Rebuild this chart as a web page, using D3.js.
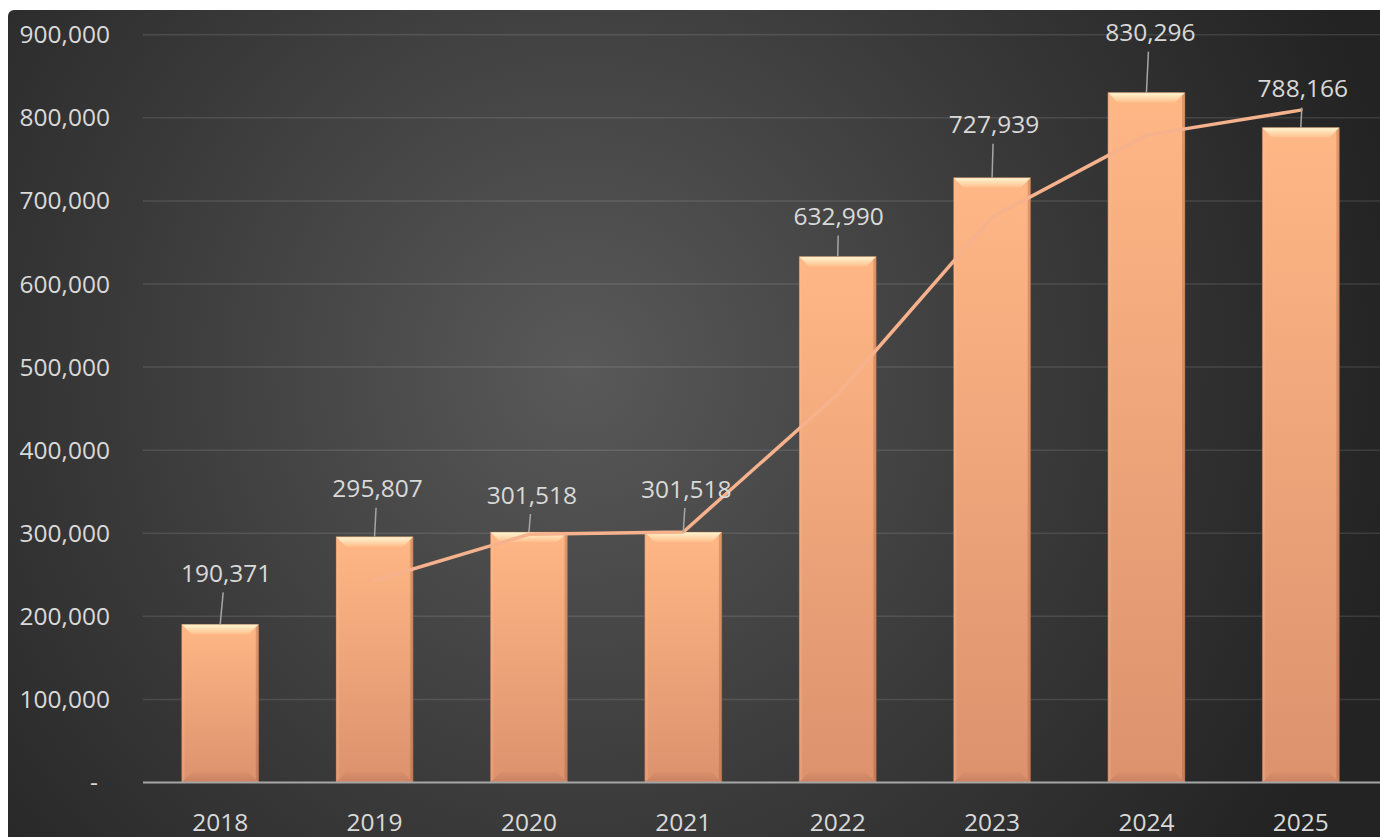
<!DOCTYPE html>
<html>
<head>
<meta charset="utf-8">
<script src="https://cdn.jsdelivr.net/npm/d3@7"></script>
<style>
  html, body { margin: 0; padding: 0; background: #ffffff; }
  svg { display: block; }
  text { font-family: "Open Sans", "Noto Sans", sans-serif; }
</style>
</head>
<body>
<svg id="chart" width="1380" height="837"></svg>
<script>
// Yearly totals
const years = ["2018", "2019", "2020", "2021", "2022", "2023", "2024", "2025"];
const values = [190371, 295807, 301518, 301518, 632990, 727939, 830296, 788166];

// Two-period moving average trend line
const trendYears = ["2019", "2020", "2021", "2022", "2023", "2024", "2025"];
const trendValues = [243089, 298663, 301518, 467254, 680465, 779117, 809231];

// Axis ticks
const yTicks = [0, 100000, 200000, 300000, 400000, 500000, 600000, 700000, 800000, 900000];

// Hand-placed data label nudges (pixels above bar top, pixels right of bar centre)
const labelLift = [51, 48, 37, 43, 40, 53, 60, 39];
const labelShift = [6, 3, 3, 3, 1, 2, 4, 2];

const W = 1380, H = 837;
const svg = d3.select("#chart");
const defs = svg.append("defs");

// Background: dark radial glow
const bg = defs.append("radialGradient").attr("id", "bgGrad")
  .attr("gradientUnits", "userSpaceOnUse")
  .attr("cx", 580).attr("cy", 370).attr("r", 830);
bg.append("stop").attr("offset", "0%").attr("stop-color", "#595959");
bg.append("stop").attr("offset", "55%").attr("stop-color", "#3a3a3a");
bg.append("stop").attr("offset", "100%").attr("stop-color", "#232323");

// Bar body gradient
const barGrad = defs.append("linearGradient").attr("id", "barGrad")
  .attr("x1", 0).attr("y1", 0).attr("x2", 0).attr("y2", 1);
barGrad.append("stop").attr("offset", "0%").attr("stop-color", "#ffb786");
barGrad.append("stop").attr("offset", "100%").attr("stop-color", "#dc926d");

// Top bevel highlight
const topGrad = defs.append("linearGradient").attr("id", "topGrad")
  .attr("x1", 0).attr("y1", 0).attr("x2", 0).attr("y2", 1);
topGrad.append("stop").attr("offset", "0%").attr("stop-color", "#fff7d2");
topGrad.append("stop").attr("offset", "100%").attr("stop-color", "#ffbf8c");

// Bottom bevel shade
const botGrad = defs.append("linearGradient").attr("id", "botGrad")
  .attr("x1", 0).attr("y1", 0).attr("x2", 0).attr("y2", 1);
botGrad.append("stop").attr("offset", "0%").attr("stop-color", "#d98e6b");
botGrad.append("stop").attr("offset", "100%").attr("stop-color", "#c98262");

svg.append("rect")
  .attr("x", 8).attr("y", 10).attr("width", W).attr("height", H)
  .attr("rx", 6).attr("fill", "url(#bgGrad)");

const x = d3.scaleBand().domain(years).range([143, 1378]).paddingInner(0.5).paddingOuter(0.25);
const y = d3.scaleLinear().domain([0, 900000]).range([782.5, 34.7]);

// Gridlines
svg.append("g").selectAll("line")
  .data(yTicks.filter(d => d > 0))
  .join("line")
  .attr("x1", 143).attr("x2", W)
  .attr("y1", d => y(d)).attr("y2", d => y(d))
  .attr("stroke", "rgba(255,255,255,0.11)").attr("stroke-width", 1.5);

// Y axis labels
const fmt = d3.format(",");
svg.append("g").selectAll("text")
  .data(yTicks)
  .join("text")
  .attr("x", d => d === 0 ? 94 : 110)
  .attr("y", d => y(d))
  .attr("dy", "0.35em")
  .attr("text-anchor", d => d === 0 ? "middle" : "end")
  .attr("fill", "#d9d9d9")
  .attr("font-size", 24.5)
  .text(d => d === 0 ? "-" : fmt(d));

// Bars with bevel
const bars = svg.append("g").selectAll("g")
  .data(years.map((yr, i) => ({ yr, v: values[i] })))
  .join("g");

const bev = 10;
bars.append("rect")
  .attr("x", d => x(d.yr)).attr("y", d => y(d.v))
  .attr("width", x.bandwidth()).attr("height", d => y(0) - y(d.v))
  .attr("fill", "url(#barGrad)");

// top bevel
bars.append("path")
  .attr("fill", "url(#topGrad)")
  .attr("d", d => {
    const x0 = x(d.yr), x1 = x0 + x.bandwidth(), t = y(d.v);
    return `M${x0},${t}L${x1},${t}L${x1 - bev},${t + bev}L${x0 + bev},${t + bev}Z`;
  });
// left bevel
bars.append("path")
  .attr("fill", "rgba(255,190,150,0.25)")
  .attr("d", d => {
    const x0 = x(d.yr), t = y(d.v), b = y(0);
    return `M${x0},${t}L${x0 + 3},${t + 3}L${x0 + 3},${b - 3}L${x0},${b}Z`;
  });
// right bevel
bars.append("path")
  .attr("fill", "rgba(150,80,50,0.3)")
  .attr("d", d => {
    const x1 = x(d.yr) + x.bandwidth(), t = y(d.v), b = y(0);
    return `M${x1},${t}L${x1 - 3},${t + 3}L${x1 - 3},${b - 3}L${x1},${b}Z`;
  });
// bottom bevel
bars.append("path")
  .attr("fill", "url(#botGrad)")
  .attr("d", d => {
    const x0 = x(d.yr), x1 = x0 + x.bandwidth(), b = y(0);
    return `M${x0},${b}L${x1},${b}L${x1 - bev},${b - bev}L${x0 + bev},${b - bev}Z`;
  });
bars.append("rect")
  .attr("x", d => x(d.yr)).attr("y", d => y(d.v))
  .attr("width", x.bandwidth()).attr("height", d => y(0) - y(d.v))
  .attr("fill", "none").attr("stroke", "rgba(140,80,50,0.4)").attr("stroke-width", 1);

// X axis baseline
svg.append("line")
  .attr("x1", 143).attr("x2", W)
  .attr("y1", y(0)).attr("y2", y(0))
  .attr("stroke", "#a6a6a6").attr("stroke-width", 2);

// X axis labels
svg.append("g").selectAll("text")
  .data(years)
  .join("text")
  .attr("x", d => x(d) + x.bandwidth() / 2)
  .attr("y", 822)
  .attr("dy", "0.35em")
  .attr("text-anchor", "middle")
  .attr("fill", "#d9d9d9")
  .attr("font-size", 24.5)
  .text(d => d);

// Trend line
const line = d3.line()
  .x(d => x(d.yr) + x.bandwidth() / 2)
  .y(d => y(d.v));
svg.append("path")
  .datum(trendYears.map((yr, i) => ({ yr, v: trendValues[i] })))
  .attr("d", line)
  .attr("fill", "none")
  .attr("stroke", "#f6b28c")
  .attr("stroke-width", 3.5)
  .attr("stroke-linecap", "round")
  .attr("stroke-linejoin", "round");

// Data labels with leader lines
const labels = svg.append("g").selectAll("g")
  .data(years.map((yr, i) => ({ yr, v: values[i], lift: labelLift[i], shift: labelShift[i] })))
  .join("g");
labels.append("line")
  .attr("x1", d => x(d.yr) + x.bandwidth() / 2 + d.shift / 2)
  .attr("y1", d => y(d.v) - d.lift + 19)
  .attr("x2", d => x(d.yr) + x.bandwidth() / 2)
  .attr("y2", d => y(d.v))
  .attr("stroke", "#a6a6a6").attr("stroke-width", 1.5);
labels.append("text")
  .attr("x", d => x(d.yr) + x.bandwidth() / 2 + d.shift)
  .attr("y", d => y(d.v) - d.lift)
  .attr("dy", "0.35em")
  .attr("text-anchor", "middle")
  .attr("fill", "#d9d9d9")
  .attr("font-size", 24.5)
  .text(d => fmt(d.v));
</script>
</body>
</html>
